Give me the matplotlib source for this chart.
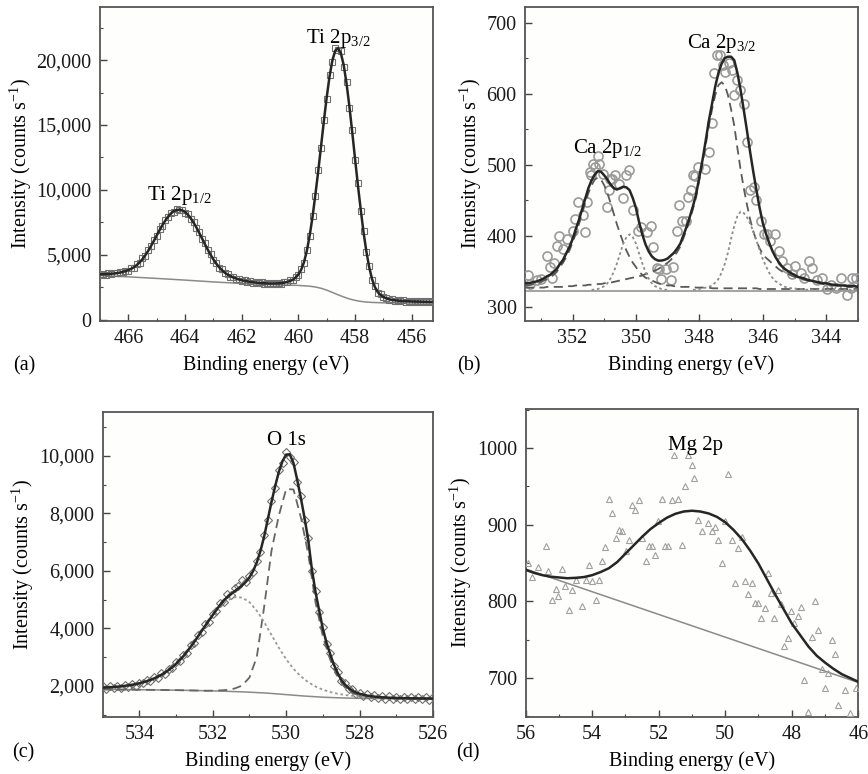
import numpy as np
import matplotlib
matplotlib.use('Agg')
import matplotlib.pyplot as plt
from matplotlib.ticker import MultipleLocator, FuncFormatter

plt.rcParams['font.family'] = ['Liberation Serif', 'DejaVu Serif']
plt.rcParams['mathtext.fontset'] = 'custom'
plt.rcParams['mathtext.rm'] = 'Liberation Serif'
plt.rcParams['mathtext.it'] = 'Liberation Serif:italic'

# ---------------- (a) Ti 2p ----------------
ti_e = np.round(np.arange(467.0, 455.25, -0.1), 1)
ti_fit = [3495, 3500, 3510, 3520, 3540, 3560, 3590, 3630, 3680, 3740,
          3820, 3920, 4045, 4215, 4420, 4670, 4970, 5305, 5675, 6070,
          6480, 6890, 7275, 7625, 7930, 8180, 8355, 8450, 8480, 8425,
          8300, 8095, 7820, 7490, 7115, 6700, 6265, 5830, 5405, 5015,
          4650, 4330, 4055, 3825, 3630, 3480, 3360, 3255, 3175, 3100,
          3040, 2995, 2955, 2918, 2890, 2862, 2840, 2818, 2807, 2795,
          2790, 2790, 2795, 2805, 2820, 2852, 2905, 2978, 3075, 3237,
          3480, 3848, 4436, 5314, 6492, 7915, 9629, 11423, 13347, 15301,
          17135, 18740, 19974, 20724, 20923, 20545, 19620, 18210, 16450, 14480,
          12410, 10385, 8510, 6730, 5260, 4045, 3130, 2520, 2130, 1905,
          1750, 1648, 1576, 1525, 1494, 1473, 1452, 1439, 1425, 1417,
          1408, 1402, 1396, 1390, 1384, 1379, 1374, 1371]
ti_data = [3420, 3530, 3470, 3560, 3500, 3590, 3560, 3670, 3650, 3790,
           3790, 3970, 4010, 4260, 4390, 4720, 4930, 5360, 5640, 6120,
           6440, 6950, 7230, 7690, 7880, 8250, 8310, 8530, 8440, 8490,
           8250, 8150, 7770, 7540, 7060, 6750, 6210, 5880, 5350, 5060,
           4600, 4380, 4010, 3870, 3590, 3520, 3320, 3290, 3130, 3140,
           3000, 3040, 2910, 2960, 2850, 2910, 2800, 2870, 2760, 2840,
           2740, 2830, 2750, 2850, 2780, 2890, 2870, 3020, 3040, 3280,
           3440, 3900, 4390, 5380, 6430, 7990, 9560, 11510, 13260, 15420,
           17030, 18880, 19850, 20900, 20800, 20690, 19480, 18350, 16310, 14620,
           12280, 10510, 8400, 6830, 5180, 4110, 3080, 2570, 2090, 1950,
           1710, 1690, 1540, 1570, 1460, 1510, 1420, 1480, 1390, 1450,
           1370, 1440, 1360, 1430, 1350, 1420, 1340, 1410]
ti_bg_e = [467.0, 466.0, 465.0, 464.0, 463.0, 462.0, 461.0, 460.0, 459.6, 459.4,
           459.2, 459.0, 458.8, 458.6, 458.4, 458.2, 458.0, 457.8, 457.6, 457.4,
           457.0, 456.0, 455.3]
ti_bg = [3400, 3300, 3180, 3050, 2910, 2790, 2700, 2640, 2580, 2520,
         2420, 2280, 2100, 1920, 1750, 1600, 1490, 1410, 1360, 1330,
         1300, 1288, 1281]

# ---------------- (b) Ca 2p ----------------
ca_e = np.round(np.arange(353.5, 342.95, -0.1), 1)
ca_fit = [333, 333, 334, 335, 336, 338, 340, 343, 345, 349,
          353, 360, 366, 375, 384, 395, 409, 422, 437, 452,
          467, 478, 486, 491, 490, 485, 479, 472, 467, 465,
          467, 469, 468, 464, 453, 439, 419, 402, 388, 378,
          371, 367, 365, 365, 366, 368, 372, 376, 382, 389,
          401, 413, 427, 442, 459, 483, 507, 534, 562, 586,
          610, 629, 642, 650, 652, 652, 647, 629, 605, 577,
          548, 518, 490, 464, 439, 418, 403, 390, 379, 370,
          363, 357, 353, 350, 347, 345, 342, 341, 340, 338,
          337, 336, 335, 334, 333, 333, 332, 331, 331, 330,
          330, 330, 329, 329, 329, 328]
ca_a = [330, 330, 331, 332, 333, 335, 337, 339, 341, 345,
        349, 356, 362, 370, 379, 390, 403, 416, 431, 446,
        460, 471, 479, 482, 479, 471, 460, 446, 431, 416,
        403, 390, 379, 370, 362, 356, 349, 345, 341, 339,
        337, 335, 333, 332, 331, 330, 330, 329, 329, 328,
        328, 328, 328, 328, 327, 327, 327, 327, 327, 326,
        326, 326, 326, 326, 326, 326, 326, 326, 326, 326,
        326, 326, 326, 326, 325, 325, 325, 325, 325, 325,
        325, 325, 325, 325, 325, 325, 325, 325, 325, 325,
        325, 325, 325, 325, 325, 325, 325, 325, 325, 325,
        325, 325, 325, 325, 325, 325]
ca_c = [327, 327, 327, 327, 327, 327, 327, 328, 328, 328,
        328, 328, 328, 329, 329, 329, 330, 330, 330, 330,
        331, 331, 331, 332, 332, 333, 334, 334, 335, 336,
        337, 338, 339, 340, 341, 342, 343, 344, 346, 347,
        349, 351, 353, 356, 359, 362, 366, 371, 377, 385,
        397, 409, 423, 438, 455, 479, 502, 528, 555, 578,
        598, 612, 616, 612, 598, 578, 555, 523, 493, 467,
        444, 423, 406, 393, 382, 374, 369, 365, 361, 357,
        353, 350, 348, 346, 344, 342, 340, 339, 338, 337,
        336, 335, 334, 333, 332, 332, 331, 330, 330, 329,
        329, 329, 328, 328, 328, 327]
ca_b_e = np.round(np.arange(351.4, 348.95, -0.1), 1)
ca_b = [324, 324, 325, 327, 329, 333, 340, 349, 361, 375,
        389, 398, 402, 398, 389, 375, 361, 349, 340, 333,
        329, 327, 325, 324, 324]
ca_d_e = np.round(np.arange(348.2, 342.95, -0.1), 1)
ca_d = [324, 324, 325, 326, 327, 328, 330, 334, 339, 348,
        360, 376, 396, 414, 428, 434, 432, 426, 417, 406,
        393, 380, 367, 357, 348, 341, 336, 333, 330, 328,
        327, 326, 326, 325, 325, 324, 324, 324, 324, 324,
        324, 324, 324, 324, 324, 324, 324, 324, 324, 324,
        324, 324, 324]
ca_base = 322
ca_pts_e = [353.42, 353.35, 353.12, 353.0, 352.82, 352.72, 352.6, 352.66, 352.48, 352.42,
            352.29, 352.19, 352.0, 351.93, 351.84, 351.68, 351.61, 351.54, 351.45, 351.42,
            351.35, 351.29, 351.19, 351.16, 351.03, 350.92, 350.84, 350.82, 350.74, 350.66,
            350.52, 350.42, 350.31, 350.21, 350.1, 349.94, 349.85, 349.66, 349.52, 349.45,
            349.34, 349.26, 349.21, 349.05, 348.89, 348.84, 348.71, 348.63, 348.55, 348.41,
            348.36, 348.26, 348.21, 348.13, 348.03, 347.82, 347.71, 347.61, 347.55, 347.45,
            347.36, 347.24, 347.18, 347.08, 346.97, 346.92, 346.81, 346.71, 346.6, 346.5,
            346.41, 346.29, 346.23, 346.07, 345.97, 345.87, 345.76, 345.6, 345.5, 345.39,
            345.23, 345.07, 344.97, 344.81, 344.7, 344.55, 344.44, 344.28, 344.13, 343.97,
            343.86, 343.7, 343.54, 343.33, 343.23, 343.18, 343.07]
ca_pts = [345, 332, 337, 339, 371, 356, 362, 341, 385, 400,
          382, 395, 407, 424, 447, 429, 405, 447, 490, 485,
          501, 497, 512, 501, 487, 440, 464, 480, 480, 485,
          473, 453, 485, 492, 436, 407, 412, 405, 414, 384,
          355, 353, 339, 353, 337, 356, 407, 443, 421, 421,
          454, 464, 485, 484, 497, 494, 518, 558, 629, 654,
          654, 640, 631, 643, 633, 598, 619, 605, 586, 532,
          464, 469, 450, 421, 403, 403, 393, 403, 379, 365,
          355, 346, 358, 348, 341, 365, 355, 337, 341, 325,
          330, 327, 341, 316, 327, 341, 341]

# ---------------- (c) O 1s ----------------
o_e = np.round(np.arange(535.0, 525.95, -0.1), 1)
o_fit = [1941, 1948, 1956, 1965, 1976, 1989, 2004, 2021, 2042, 2066,
         2095, 2128, 2167, 2210, 2264, 2322, 2391, 2469, 2558, 2656,
         2770, 2898, 3040, 3198, 3365, 3543, 3730, 3918, 4105, 4288,
         4468, 4650, 4820, 4970, 5100, 5200, 5300, 5400, 5500, 5620,
         5780, 6000, 6300, 6700, 7200, 7800, 8400, 8950, 9450, 9820,
         10050, 10055, 9749, 9176, 8541, 7847, 7096, 6065, 5267, 4620,
         3988, 3505, 3104, 2745, 2460, 2215, 2053, 1927, 1841, 1770,
         1728, 1698, 1667, 1646, 1630, 1618, 1608, 1600, 1593, 1588,
         1583, 1580, 1576, 1574, 1571, 1570, 1568, 1567, 1565, 1564,
         1563]
o_data = [1990, 1900, 1985, 1920, 2010, 1940, 2030, 1975, 2060, 2000,
          2110, 2090, 2210, 2180, 2300, 2290, 2440, 2430, 2600, 2620,
          2820, 2860, 3090, 3150, 3420, 3500, 3790, 3880, 4160, 4240,
          4520, 4610, 4900, 4930, 5200, 5150, 5420, 5480, 5700, 5620,
          5820, 5950, 6350, 6650, 7250, 7760, 8450, 8900, 9500, 9760,
          10150, 9950, 9800, 9100, 8600, 7780, 7150, 6000, 5320, 4560,
          4040, 3450, 3150, 2700, 2500, 2170, 2090, 1880, 1880, 1720,
          1770, 1650, 1710, 1600, 1680, 1570, 1650, 1560, 1640, 1550,
          1630, 1540, 1620, 1535, 1615, 1530, 1610, 1530, 1605, 1525,
          1600]
o_comp_e = np.round(np.arange(535.0, 525.95, -0.2), 1)
o_main = [1880, 1878, 1876, 1874, 1872, 1870, 1867, 1864, 1861, 1858,
          1855, 1850, 1845, 1840, 1835, 1838, 1847, 1864, 1914, 2015,
          2295, 3013, 4751, 6704, 7926, 8854, 8834, 7866, 6606, 4912,
          3728, 2914, 2320, 1948, 1759, 1665, 1619, 1593, 1579, 1570,
          1564, 1561, 1558, 1557, 1556, 1555]
o_second = [1941, 1956, 1976, 2004, 2042, 2095, 2167, 2264, 2391, 2558,
            2770, 3040, 3365, 3730, 4105, 4460, 4762, 4979, 5090, 5075,
            4915, 4616, 4222, 3775, 3330, 2930, 2595, 2335, 2132, 1981,
            1870, 1790, 1730, 1687, 1658, 1633, 1616, 1603, 1593, 1585,
            1579, 1574, 1571, 1568, 1565, 1563]
o_bg_e = [535.0, 534.0, 533.0, 532.0, 531.5, 531.0, 530.5, 530.0, 529.5, 529.0,
          528.5, 528.0, 527.0, 526.0]
o_bg = [1880, 1870, 1855, 1830, 1810, 1785, 1750, 1700, 1650, 1610,
        1585, 1570, 1560, 1555]

# ---------------- (d) Mg 2p ----------------
mg_e = [55.92, 55.82, 55.62, 55.4, 55.32, 55.22, 55.1, 55.02, 54.92, 54.82,
        54.7, 54.6, 54.5, 54.3, 54.2, 54.1, 54.0, 53.9, 53.8, 53.7,
        53.6, 53.5, 53.4, 53.29, 53.19, 53.09, 52.99, 52.89, 52.79, 52.71,
        52.59, 52.49, 52.39, 52.29, 52.21, 52.11, 52.01, 51.91, 51.81, 51.71,
        51.61, 51.53, 51.41, 51.31, 51.21, 51.11, 51.01, 50.93, 49.91, 50.81,
        50.71, 50.51, 50.41, 50.31, 50.21, 50.01, 50.11, 49.81, 49.61, 49.51,
        49.71, 49.41, 49.21, 49.31, 49.11, 49.01, 48.91, 48.81, 48.71, 48.61,
        48.52, 48.42, 48.32, 48.22, 48.12, 48.02, 47.92, 47.82, 47.72, 47.62,
        47.5, 47.4, 47.3, 47.2, 47.1, 47.0, 46.9, 46.8, 46.7, 46.6,
        46.4, 46.25, 46.07]
mg_data = [850, 832, 845, 872, 839, 802, 816, 807, 842, 820,
           789, 815, 828, 794, 828, 847, 826, 802, 828, 852,
           871, 933, 915, 882, 893, 891, 866, 880, 926, 919,
           932, 882, 853, 872, 872, 860, 904, 933, 872, 872,
           932, 991, 933, 873, 950, 991, 978, 961, 966, 906,
           891, 902, 891, 897, 880, 904, 850, 880, 869, 884,
           824, 826, 824, 810, 798, 798, 778, 791, 837, 811,
           778, 815, 797, 741, 752, 787, 771, 781, 793, 697,
           656, 753, 800, 763, 711, 687, 707, 750, 731, 665,
           684, 654, 687]
mg_fit_e = [56.0, 55.75, 55.5, 55.25, 55.0, 54.75, 54.5, 54.25, 54.0, 53.75,
            53.5, 53.25, 53.0, 52.75, 52.5, 52.25, 52.0, 51.75, 51.5, 51.25,
            51.0, 50.75, 50.5, 50.25, 50.0, 49.75, 49.5, 49.25, 49.0, 48.75,
            48.5, 48.25, 48.0, 47.75, 47.5, 47.25, 47.0, 46.75, 46.5, 46.25,
            46.0]
mg_fit = [841, 837, 834, 832, 831, 830, 830.5, 831.5, 834, 838,
          843, 851, 862, 873, 884, 894, 902, 909, 914, 917,
          918, 917, 914.5, 910, 903, 893, 881, 866, 849, 829,
          809, 790, 771, 756, 741, 729, 720, 712, 705, 700,
          695]
mg_bg_e = [56.0, 46.0]
mg_bg = [842, 694]

fit_col = '#262626'
bg_col = '#8a8a8a'
txt = 14.5


def comma(v, pos):
    return '{:,}'.format(int(round(v)))


def style(ax, xlim, ylim, xmaj, ymaj, ymin, fmt=None):
    ax.set_facecolor('#fefefc')
    ax.set_xlim(*xlim)
    ax.set_ylim(*ylim)
    ax.xaxis.set_major_locator(MultipleLocator(xmaj))
    ax.xaxis.set_minor_locator(MultipleLocator(1))
    ax.yaxis.set_major_locator(MultipleLocator(ymaj))
    ax.yaxis.set_minor_locator(MultipleLocator(ymin))
    if fmt is not None:
        ax.yaxis.set_major_formatter(FuncFormatter(fmt))
    ax.tick_params(which='both', direction='in', colors='#444444', labelcolor='#1a1a1a',
                   labelsize=txt, top=False, right=False)
    ax.tick_params(which='major', length=5, width=1.0, pad=6)
    ax.tick_params(which='minor', length=2.5, width=0.8)
    for s in ax.spines.values():
        s.set_color('#555555')
        s.set_linewidth(1.3)
    ax.set_xlabel('Binding energy (eV)', fontsize=txt, labelpad=5)
    ax.set_ylabel('Intensity (counts s$^{-1}$)', fontsize=txt, labelpad=2)


fig = plt.figure(figsize=(8.68, 7.74), dpi=100)
ax1 = fig.add_axes([0.1152, 0.5853, 0.3836, 0.4057])
ax2 = fig.add_axes([0.6048, 0.5853, 0.3836, 0.4057])
ax3 = fig.add_axes([0.1183, 0.0736, 0.3805, 0.3941])
ax4 = fig.add_axes([0.6056, 0.0736, 0.3832, 0.3983])

# (a)
ax1.plot(ti_bg_e, ti_bg, color=bg_col, lw=1.1, zorder=2)
ax1.plot(ti_e, ti_data, ls='none', marker='s', ms=4.5, mfc='none', mec='#707070', mew=0.8, zorder=3)
ax1.plot(ti_e, ti_fit, color=fit_col, lw=1.8, zorder=4)
style(ax1, (467.0, 455.25), (-100, 24100), 2, 5000, 2500, comma)
ax1.text(458.6, 21330, 'Ti 2p$_{\\mathrm{3/2}}$', fontsize=15, ha='center', va='baseline')
ax1.text(464.2, 9190, 'Ti 2p$_{\\mathrm{1/2}}$', fontsize=15, ha='center', va='baseline')

# (b)
ax2.axhline(ca_base, color=bg_col, lw=1.1, zorder=2)
ax2.plot(ca_pts_e, ca_pts, ls='none', marker='o', ms=6.5, mfc='none', mec='#9a9a9a', mew=1.2, zorder=3)
ax2.plot(ca_e, ca_a, color='#5a5a5a', lw=1.3, ls=(0, (5, 3)), zorder=3)
ax2.plot(ca_e, ca_c, color='#5a5a5a', lw=1.3, ls=(0, (5, 3)), zorder=3)
ax2.plot(ca_b_e, ca_b, color='#8c8c8c', lw=1.3, ls=(0, (1.5, 1.5)), zorder=3)
ax2.plot(ca_d_e, ca_d, color='#8c8c8c', lw=1.3, ls=(0, (1.5, 1.5)), zorder=3)
ax2.plot(ca_e, ca_fit, color=fit_col, lw=1.8, zorder=4)
style(ax2, (353.5, 343.0), (280, 722), 2, 100, 50)
ax2.text(350.9, 516, 'Ca 2p$_{\\mathrm{1/2}}$', fontsize=15, ha='center', va='baseline')
ax2.text(347.3, 664, 'Ca 2p$_{\\mathrm{3/2}}$', fontsize=15, ha='center', va='baseline')

# (c)
ax3.plot(o_bg_e, o_bg, color=bg_col, lw=1.1, zorder=2)
ax3.plot(o_e, o_data, ls='none', marker='D', ms=4, mfc='none', mec='#707070', mew=0.8, zorder=3)
ax3.plot(o_comp_e, o_main, color='#666666', lw=1.3, ls=(0, (5, 3)), zorder=3)
ax3.plot(o_comp_e, o_second, color='#999999', lw=1.3, ls=(0, (1.5, 1.5)), zorder=3)
ax3.plot(o_e, o_fit, color=fit_col, lw=1.8, zorder=4)
style(ax3, (535.0, 526.0), (920, 11530), 2, 2000, 1000, comma)
ax3.text(530.0, 10372, 'O 1s', fontsize=15, ha='center', va='baseline')

# (d)
ax4.plot(mg_bg_e, mg_bg, color=bg_col, lw=1.1, zorder=2)
ax4.plot(mg_e, mg_data, ls='none', marker='^', ms=4.5, mfc='none', mec='#a0a0a0', mew=0.8, zorder=3)
ax4.plot(mg_fit_e, mg_fit, color=fit_col, lw=1.8, zorder=4)
style(ax4, (56, 46), (649, 1051), 2, 100, 50)
ax4.text(50.9, 997, 'Mg 2p', fontsize=15, ha='center', va='baseline')

for x, y, s in [(13, 370, '(a)'), (457, 370, '(b)'), (12, 757, '(c)'), (456, 757, '(d)')]:
    fig.text(x / 868, 1 - y / 774, s, fontsize=txt, ha='left', va='baseline')

fig.savefig('out.png', dpi=100)
